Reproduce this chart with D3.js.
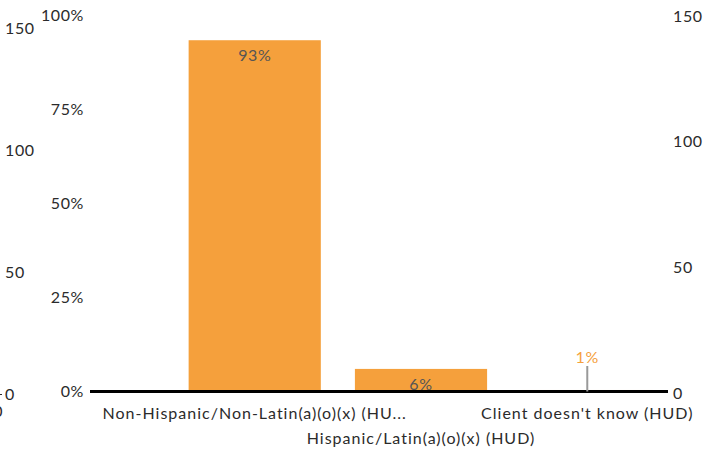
<!DOCTYPE html>
<html>
<head>
<meta charset="utf-8">
<script src="https://cdn.jsdelivr.net/npm/d3@7"></script>
<style>
  html, body { margin: 0; padding: 0; background: #fff; }
  svg { display: block; font-family: "Lato", "Open Sans", sans-serif; }
</style>
</head>
<body>
<svg id="chart" width="705" height="449"></svg>
<script>
// ---- data ----
const categories = [
  "Non-Hispanic/Non-Latin(a)(o)(x) (HUD)",
  "Hispanic/Latin(a)(o)(x) (HUD)",
  "Client doesn't know (HUD)"
];
const shownLabels = [
  "Non-Hispanic/Non-Latin(a)(o)(x) (HU...",
  "Hispanic/Latin(a)(o)(x) (HUD)",
  "Client doesn't know (HUD)"
];
const percentValues = [93.3, 6.0, 0.4];
const percentLabels = ["93%", "6%", "1%"];
const percentTicks = [0, 25, 50, 75, 100];
const countTicks = [0, 50, 100, 150];

// ---- layout ----
const svg = d3.select("#chart");
const orange = "#F5A03C";
const textColor = "#2b2b2b";

const x = d3.scaleBand().domain(categories).range([172, 670])
  .paddingInner(0.205).paddingOuter(0.1);
const yPct = d3.scaleLinear().domain([0, 100]).range([391.5, 15]);
const yCountLeft = d3.scaleLinear().domain([0, 150]).range([394, 28]);
const yCountRight = d3.scaleLinear().domain([0, 150]).range([393, 16]);

function styleText(sel) {
  sel.attr("font-size", 16).attr("fill", textColor)
    .attr("font-family", "Lato, sans-serif").attr("letter-spacing", "0.6px");
}

// left percent axis
const pctAxis = svg.append("g").attr("transform", "translate(90,0)")
  .call(d3.axisLeft(yPct).tickValues(percentTicks).tickFormat(d => d + "%").tickSize(0).tickPadding(6));
pctAxis.select(".domain").remove();
styleText(pctAxis.selectAll("text"));

// far-left count axis (partially off-canvas)
const leftCount = svg.append("g").attr("transform", "translate(-4,0)")
  .call(d3.axisRight(yCountLeft).tickValues(countTicks).tickSize(6).tickPadding(3));
leftCount.select(".domain").remove();
leftCount.selectAll("line").attr("stroke", textColor);
leftCount.selectAll("line").filter(d => d !== 0).remove();
styleText(leftCount.selectAll("text"));
// clipped stray label, as in the reference
svg.append("text").attr("x", -2).attr("y", 412).attr("dy", "0.32em")
  .attr("text-anchor", "middle").attr("font-size", 16).attr("fill", textColor).text("0");

// right count axis
const rightCount = svg.append("g").attr("transform", "translate(670,0)")
  .call(d3.axisRight(yCountRight).tickValues(countTicks).tickSize(0).tickPadding(3));
rightCount.select(".domain").remove();
styleText(rightCount.selectAll("text"));

// bars
svg.selectAll("rect.bar").data(categories).enter().append("rect")
  .attr("class", "bar")
  .attr("x", d => x(d))
  .attr("width", x.bandwidth())
  .attr("y", (d, i) => yPct(percentValues[i]))
  .attr("height", (d, i) => yPct(0) - yPct(percentValues[i]))
  .attr("fill", orange);

// baseline
svg.append("line").attr("x1", 90).attr("x2", 668)
  .attr("y1", yPct(0)).attr("y2", yPct(0))
  .attr("stroke", "#000").attr("stroke-width", 3);

// value labels
categories.forEach((c, i) => {
  const cx = x(c) + x.bandwidth() / 2;
  const h = yPct(0) - yPct(percentValues[i]);
  if (h > 18) {
    svg.append("text").attr("x", cx).attr("y", yPct(percentValues[i]) + 15)
      .attr("dy", "0.35em").attr("text-anchor", "middle")
      .attr("font-size", 16).attr("letter-spacing", "0.6px")
      .attr("fill", "#555555").text(percentLabels[i]);
  } else {
    svg.append("line").attr("x1", cx).attr("x2", cx)
      .attr("y1", yPct(0)).attr("y2", 366)
      .attr("stroke", "#999999").attr("stroke-width", 2);
    svg.append("text").attr("x", cx).attr("y", 357)
      .attr("dy", "0.35em").attr("text-anchor", "middle")
      .attr("font-size", 16).attr("letter-spacing", "0.6px")
      .attr("fill", orange).text(percentLabels[i]);
  }
});

// category labels (staggered)
categories.forEach((c, i) => {
  const cx = x(c) + x.bandwidth() / 2;
  svg.append("text").attr("x", cx).attr("y", i % 2 === 0 ? 413 : 438)
    .attr("dy", "0.35em").attr("text-anchor", "middle")
    .attr("font-size", 16).attr("letter-spacing", "1px")
    .attr("fill", textColor).text(shownLabels[i]);
});
</script>
</body>
</html>
